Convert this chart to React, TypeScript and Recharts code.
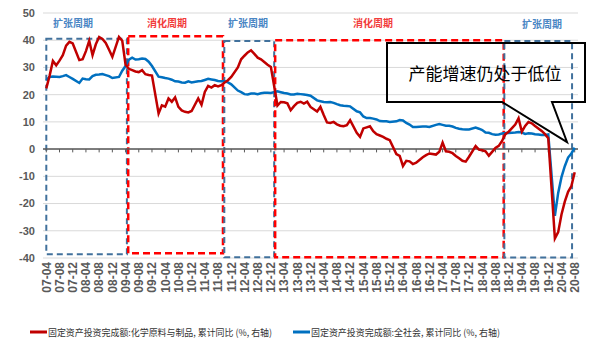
import { LineChart, Line, XAxis, YAxis, CartesianGrid, ReferenceArea, ReferenceLine } from 'recharts';

// tick labels every 4 months, 07-04 .. 20-08
const TICK_LABELS = [
  '07-04', '07-08', '07-12', '08-04', '08-08', '08-12', '09-04', '09-08', '09-12',
  '10-04', '10-08', '10-12', '11-04', '11-08', '11-12', '12-04', '12-08', '12-12',
  '13-04', '13-08', '13-12', '14-04', '14-08', '14-12', '15-04', '15-08', '15-12',
  '16-04', '16-08', '16-12', '17-04', '17-08', '17-12', '18-04', '18-08', '18-12',
  '19-04', '19-08', '19-12', '20-04', '20-08',
];

// monthly, 2007-04 .. 2020-08 (no January release -> null)
const CHEM = [
  22.3, 27, 32.4, 30.8, 32.5, 34.5, 38, 39.4, 38.8,
  null, 32.7, 33, 36, 39.8, 34.5, 38.5, 41.2, 40.5, 39, 36.5, 33.9,
  null, 41.2, 39.8, 31, 29.5, 29, 28.5, 28.3, 29, 27.5, 27.2, 27,
  null, 13.1, 16.1, 15.6, 18.6, 17.4, 19, 15.5, 14.2, 13.7, 13.5, 14,
  null, 18.6, 16.3, 21, 23.2, 22.6, 23.5, 23, 23.5, 24.5, 25.3, 26.5,
  null, 30, 33, 34.3, 35.5, 36.3, 35, 33.6, 33, 32, 31, 30.2,
  null, 16, 17.3, 17.2, 16.8, 14.3, 15.8, 17, 17.4, 16.7, 17.4, 15.5,
  null, 13.8, 15.5, 12.5, 9.8, 9.6, 10, 9.1, 8.6, 8.4, 8.8, 10.6,
  null, 6, 4.5, 7.6, 8, 8.4, 6.6, 5.5, 5, 4.5, 3.8, 3.3,
  null, -1.8, -2.5, -6.2, -4.3, -4.5, -5.5, -5, -4, -3, -2.2, -1.6,
  null, -2, -1, 2.4, -0.8, -1, -1.5, -2.5, -3.4, -4.3, -4.6, -2.8,
  null, 1.1, -0.2, -0.4, -0.8, -2.4, -1, 0.4, 1.2, 3, 5.5, 6.4,
  null, 9, 11.3, 6.4, 8.5, 10, 9.5, 8.5, 7.6, 6.7, 5.5, 4,
  null, -32.8, -30.5, -24, -19.3, -15.7, -13.6, -8.5,
];

const TOTAL = [
  25.3, 26.5, 26.7, 26.6, 26.5, 26.8, 27.2, 26.5, 25.8,
  null, 24.3, 25.9, 25.7, 25.6, 26.8, 27.3, 27.4, 27.6, 27.2, 26.8, 26.1,
  null, 26.5, 28.8, 30.5, 32.9, 33.6, 32.9, 33, 33.3, 33.1, 32.1, 30.5,
  null, 26.6, 26.4, 26.1, 25.9, 25.5, 24.9, 24.8, 24.5, 24.4, 24.9, 24.5,
  null, 24.9, 25, 25.4, 25.8, 25.6, 25.4, 25, 24.9, 24.9, 24.5, 23.8,
  null, 21.5, 20.9, 20.2, 20.1, 20.4, 20.4, 20.2, 20.5, 20.7, 20.7, 20.6,
  null, 21.2, 20.9, 20.6, 20.4, 20.1, 20.1, 20.3, 20.2, 20.1, 19.9, 19.6,
  null, 17.9, 17.6, 17.3, 17.2, 17.3, 17, 16.5, 16.1, 15.9, 15.8, 15.7,
  null, 13.9, 13.5, 12, 11.4, 11.4, 11.2, 10.9, 10.3, 10.2, 10.2, 10,
  null, 10.2, 10.7, 10.5, 9.6, 9, 8.1, 8.1, 8.2, 8.3, 8.3, 8.1,
  null, 8.9, 9.2, 8.9, 8.6, 8.6, 8.3, 7.8, 7.5, 7.3, 7.2, 7.2,
  null, 7.9, 7.5, 7, 6.1, 6, 5.5, 5.3, 5.4, 5.7, 5.9, 5.9,
  null, 6.1, 6.3, 6.1, 5.6, 5.8, 5.7, 5.5, 5.4, 5.2, 5.2, 5.4,
  null, -24.5, -16.1, -10.3, -6.3, -3.1, -1.6, 0.5,
];

const Y_TICKS = [-40, -30, -20, -10, 0, 10, 20, 30, 40, 50];

const CHEM_NAME = '固定资产投资完成额:化学原料与制品, 累计同比 (%, 右轴)';
const TOTAL_NAME = '固定资产投资完成额:全社会, 累计同比 (%, 右轴)';

const RED = '#c00000';
const BLUE = '#0070c0';
const BOX_BLUE = '#41719c';
const BOX_RED = '#ff0000';

// cycle boxes, in month-index / value units
const CYCLES = [
  { expand: true, x1: 0, x2: 24.4, y1: -38.6, y2: 40.5 },
  { expand: false, x1: 24.8, x2: 53.5, y1: -38.3, y2: 41.5 },
  { expand: true, x1: 53.9, x2: 69, y1: -39.7, y2: 39.7 },
  { expand: false, x1: 69.3, x2: 138.5, y1: -39.7, y2: 40 },
  { expand: true, x1: 138.7, x2: 159.2, y1: -39.8, y2: 39.7 },
];

const data = CHEM.map((v, i) => ({ i, chem: v, total: TOTAL[i] }));
const TICKS = TICK_LABELS.map((_, k) => k * 4);

const FONT = '"Liberation Sans", Arial, sans-serif';
const CJK = '"Noto Sans CJK SC", sans-serif';

const XTick = (props: any) => {
  const { x, y, payload } = props;
  return (
    <text
      transform={`translate(${x},${y}) rotate(-90)`}
      dy="0.36em"
      textAnchor="end"
      fontSize={12}
      fontWeight="bold"
      fill="#595959"
      fontFamily={FONT}
    >
      {TICK_LABELS[Math.round(payload.value / 4)]}
    </text>
  );
};

const LABELS = [
  { text: '扩张周期', x: 73, y: 22, color: '#4a86c4' },
  { text: '消化周期', x: 167, y: 22, color: '#f23c3c' },
  { text: '扩张周期', x: 248, y: 22, color: '#4a86c4' },
  { text: '消化周期', x: 373, y: 22, color: '#f23c3c' },
  { text: '扩张周期', x: 542, y: 23, color: '#4a86c4' },
];

const LEGEND = [
  { name: CHEM_NAME, color: RED, x: 30, width: 224 },
  { name: TOTAL_NAME, color: BLUE, x: 293, width: 189 },
];

export default function App() {
  return (
    <div style={{ position: 'absolute', left: 0, top: 0, width: 606, height: 356, background: '#fff' }}>
      <LineChart width={606} height={356} data={data} margin={{ top: 13, right: 28, bottom: 50, left: 0 }}>
        <CartesianGrid vertical={false} stroke="#d9d9d9" strokeWidth={1} />
        <XAxis
          dataKey="i"
          type="number"
          domain={[-1, 161]}
          ticks={TICKS}
          interval={0}
          height={48}
          axisLine={false}
          tickLine={false}
          tickSize={0}
          tickMargin={4}
          tick={<XTick />}
        />
        <YAxis
          domain={[-40, 50]}
          ticks={Y_TICKS}
          interval={0}
          width={43}
          axisLine={false}
          tickLine={false}
          tickSize={0}
          tickMargin={8}
          tick={{ fill: '#595959', fontSize: 11, fontWeight: 'bold', fontFamily: FONT }}
        />
        {CYCLES.map((c, k) => (
          <ReferenceArea
            key={k}
            x1={c.x1}
            x2={c.x2}
            y1={c.y1}
            y2={c.y2}
            fill="none"
            fillOpacity={0}
            stroke={c.expand ? BOX_BLUE : BOX_RED}
            strokeWidth={c.expand ? 2 : 2.5}
            strokeDasharray={c.expand ? '6 4' : '7 4'}
            ifOverflow="extendDomain"
          />
        ))}
        <ReferenceLine y={0} stroke="#595959" strokeWidth={1.5} />
        {TICKS.map((t) => (
          <ReferenceLine
            key={t}
            segment={[{ x: t, y: 0 }, { x: t, y: -1.2 }]}
            stroke="#595959"
            strokeWidth={1}
          />
        ))}
        <Line
          dataKey="total"
          name={TOTAL_NAME}
          stroke={BLUE}
          strokeWidth={2.5}
          dot={false}
          connectNulls
          isAnimationActive={false}
        />
        <Line
          dataKey="chem"
          name={CHEM_NAME}
          stroke={RED}
          strokeWidth={2.5}
          dot={false}
          connectNulls
          isAnimationActive={false}
        />
      </LineChart>

      {/* annotations + legend */}
      <svg width={606} height={356} style={{ position: 'absolute', left: 0, top: 0, pointerEvents: 'none' }}>
        {LABELS.map((l, k) => (
          <text
            key={k}
            x={l.x}
            y={l.y}
            textAnchor="middle"
            dominantBaseline="central"
            fontSize={10}
            fontWeight="bold"
            fill={l.color}
            fontFamily={CJK}
          >
            {l.text}
          </text>
        ))}
        <path
          d="M387,43 H585 V102 H552 L567,142 L502,102 H387 Z"
          fill="none"
          stroke="#000"
          strokeWidth={2}
        />
        <text x={485} y={72} textAnchor="middle" dominantBaseline="central" fontSize={17} fill="#000" fontFamily={CJK}>
          产能增速仍处于低位
        </text>

        {LEGEND.map((l) => (
          <g key={l.name}>
            <line x1={l.x} x2={l.x + 17} y1={332} y2={332} stroke={l.color} strokeWidth={3} />
            <text
              x={l.x + 18}
              y={332}
              dominantBaseline="central"
              fontSize={9.5}
              fill="#333"
              fontFamily={CJK}
              textLength={l.width}
              lengthAdjust="spacingAndGlyphs"
            >
              {l.name}
            </text>
          </g>
        ))}
      </svg>
    </div>
  );
}
